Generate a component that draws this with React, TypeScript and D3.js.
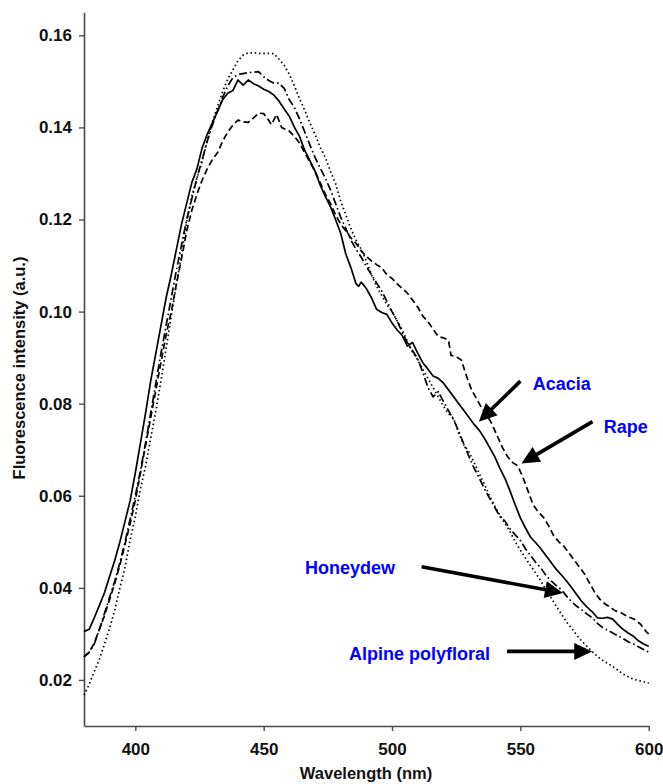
import React, { useEffect, useRef } from 'react';
import * as d3 from 'd3';

const W = 663;
const H = 784;

const X_TICKS = [400, 450, 500, 550, 600];
const Y_TICKS = [0.02, 0.04, 0.06, 0.08, 0.1, 0.12, 0.14, 0.16];

// Acacia (solid)
const ACACIA: [number, number][] = [
  [380, 0.0305], [382, 0.031], [384, 0.0335], [386, 0.0362], [388, 0.039], [390, 0.0425],
  [392, 0.046], [394, 0.05], [396, 0.0545], [398, 0.059], [400, 0.065], [402, 0.0715],
  [404, 0.078], [406, 0.085], [408, 0.091], [410, 0.097], [412, 0.103], [414, 0.108],
  [416, 0.1135], [418, 0.119], [420, 0.1235], [422, 0.128], [424, 0.131], [426, 0.1355],
  [428, 0.1385], [430, 0.141], [432, 0.1435], [434, 0.146], [436, 0.1474], [438, 0.148],
  [440, 0.1503], [442, 0.1492], [444, 0.1503], [446, 0.1495], [448, 0.149], [450, 0.1483],
  [452, 0.1478], [454, 0.147], [456, 0.1457], [458, 0.144], [460, 0.1424], [462, 0.14],
  [464, 0.138], [466, 0.135], [468, 0.1328], [470, 0.1305], [472, 0.1275], [474, 0.125],
  [476, 0.1228], [478, 0.12], [480, 0.117], [482, 0.1125], [484, 0.1095], [486, 0.106],
  [487, 0.1055], [488, 0.1064], [490, 0.105], [492, 0.103], [494, 0.1005], [496, 0.0998],
  [498, 0.0994], [500, 0.0975], [502, 0.096], [504, 0.0948], [506, 0.0925], [508, 0.0933],
  [510, 0.091], [512, 0.0889], [514, 0.0875], [516, 0.086], [518, 0.0855], [520, 0.0845],
  [522, 0.083], [524, 0.0815], [526, 0.08], [528, 0.0785], [530, 0.077], [532, 0.0755],
  [534, 0.0742], [536, 0.0725], [538, 0.0705], [540, 0.0685], [542, 0.066], [544, 0.0638],
  [546, 0.061], [548, 0.058], [550, 0.0552], [552, 0.053], [554, 0.051], [556, 0.0498],
  [558, 0.0485], [560, 0.047], [562, 0.0455], [564, 0.044], [566, 0.0428], [568, 0.0415],
  [570, 0.04], [572, 0.0385], [574, 0.037], [576, 0.0358], [578, 0.0348], [580, 0.0335],
  [582, 0.0334], [584, 0.0336], [586, 0.0332], [588, 0.032], [590, 0.031], [592, 0.0302],
  [594, 0.0295], [596, 0.0285], [598, 0.0278], [600, 0.0273],
];

// Rape (dashed)
const RAPE: [number, number][] = [
  [380, 0.025], [382, 0.026], [384, 0.028], [386, 0.031], [388, 0.034], [390, 0.0375],
  [392, 0.041], [394, 0.045], [396, 0.0495], [398, 0.054], [400, 0.059], [402, 0.065],
  [404, 0.071], [406, 0.077], [408, 0.083], [410, 0.089], [412, 0.095], [414, 0.1],
  [416, 0.106], [418, 0.1115], [420, 0.1175], [422, 0.122], [424, 0.1255], [426, 0.1285],
  [428, 0.131], [430, 0.133], [432, 0.1345], [434, 0.137], [436, 0.139], [438, 0.1405],
  [440, 0.1416], [442, 0.1412], [444, 0.1411], [446, 0.142], [448, 0.1431], [450, 0.143],
  [452, 0.1415], [453, 0.1406], [455, 0.1428], [457, 0.14], [460, 0.1392], [462, 0.138],
  [464, 0.1366], [466, 0.1345], [468, 0.1325], [470, 0.1305], [472, 0.128], [474, 0.1255],
  [476, 0.1235], [478, 0.121], [480, 0.119], [482, 0.1175], [484, 0.116], [486, 0.1148],
  [488, 0.1132], [490, 0.112], [492, 0.111], [494, 0.1102], [496, 0.1095], [498, 0.108],
  [500, 0.1072], [502, 0.106], [504, 0.105], [506, 0.104], [508, 0.1025], [510, 0.101],
  [512, 0.099], [514, 0.0978], [516, 0.0962], [518, 0.0946], [520, 0.0943], [522, 0.0938],
  [523, 0.0905], [525, 0.0902], [527, 0.0895], [529, 0.086], [531, 0.083], [533, 0.081],
  [535, 0.079], [537, 0.0775], [539, 0.0755], [541, 0.073], [543, 0.0705], [545, 0.0685],
  [547, 0.0672], [549, 0.0665], [551, 0.064], [553, 0.061], [555, 0.058], [557, 0.0565],
  [559, 0.0553], [561, 0.0535], [563, 0.0513], [565, 0.05], [567, 0.049], [569, 0.0475],
  [571, 0.046], [573, 0.0445], [575, 0.043], [577, 0.041], [579, 0.039], [581, 0.0375],
  [583, 0.0365], [585, 0.0358], [587, 0.035], [589, 0.0347], [591, 0.034], [593, 0.0335],
  [595, 0.033], [597, 0.032], [599, 0.0305], [600, 0.03],
];

// Honeydew (dash-dot)
const HONEYDEW: [number, number][] = [
  [380, 0.025], [382, 0.026], [384, 0.0278], [386, 0.031], [388, 0.0345], [390, 0.038],
  [392, 0.0415], [394, 0.0455], [396, 0.05], [398, 0.055], [400, 0.06], [402, 0.0655],
  [404, 0.0715], [406, 0.078], [408, 0.0845], [410, 0.091], [412, 0.097], [414, 0.103],
  [416, 0.109], [418, 0.1145], [420, 0.12], [422, 0.1245], [424, 0.129], [426, 0.133],
  [428, 0.137], [430, 0.1405], [432, 0.1435], [434, 0.1465], [436, 0.149], [438, 0.1508],
  [440, 0.1515], [442, 0.1517], [444, 0.1519], [446, 0.152], [448, 0.1521], [450, 0.151],
  [452, 0.1502], [454, 0.1496], [456, 0.1496], [458, 0.1485], [460, 0.146], [462, 0.1443],
  [464, 0.1418], [466, 0.139], [468, 0.1362], [470, 0.1335], [472, 0.1312], [474, 0.129],
  [476, 0.1265], [478, 0.1235], [480, 0.1205], [482, 0.118], [484, 0.1155], [486, 0.1135],
  [488, 0.1118], [490, 0.1098], [492, 0.108], [494, 0.1062], [496, 0.1045], [498, 0.1022],
  [500, 0.1], [502, 0.098], [504, 0.0955], [506, 0.0932], [508, 0.0915], [510, 0.0898],
  [512, 0.0868], [514, 0.0835], [516, 0.0815], [518, 0.0826], [520, 0.0805], [522, 0.0785],
  [524, 0.0765], [526, 0.074], [528, 0.0712], [530, 0.0685], [532, 0.066], [534, 0.0638],
  [536, 0.0615], [538, 0.0595], [540, 0.0575], [542, 0.0555], [544, 0.0545], [546, 0.0528],
  [548, 0.0515], [550, 0.0503], [552, 0.0485], [554, 0.047], [556, 0.0455], [558, 0.0443],
  [560, 0.0427], [562, 0.0415], [564, 0.0405], [566, 0.0396], [568, 0.0382], [570, 0.037],
  [572, 0.036], [574, 0.0352], [576, 0.0343], [578, 0.0335], [580, 0.0323], [582, 0.0314],
  [584, 0.0308], [586, 0.0302], [588, 0.0296], [590, 0.029], [592, 0.0283], [594, 0.0278],
  [596, 0.0272], [598, 0.0266], [600, 0.026],
];

// Alpine polyfloral (dotted)
const ALPINE: [number, number][] = [
  [380, 0.0167], [382, 0.019], [384, 0.0218], [386, 0.0245], [388, 0.0278], [390, 0.0313],
  [392, 0.0352], [394, 0.04], [396, 0.0445], [398, 0.0505], [400, 0.0555], [402, 0.0615],
  [404, 0.0665], [406, 0.0725], [408, 0.0785], [410, 0.085], [412, 0.092], [414, 0.099],
  [416, 0.106], [418, 0.1125], [420, 0.1195], [422, 0.125], [424, 0.129], [426, 0.1325],
  [428, 0.137], [430, 0.1412], [432, 0.1445], [434, 0.1478], [436, 0.1505], [438, 0.1525],
  [440, 0.1545], [442, 0.1557], [444, 0.1562], [446, 0.1562], [448, 0.1561], [450, 0.1561],
  [452, 0.1561], [454, 0.156], [456, 0.1548], [458, 0.1535], [460, 0.1515], [462, 0.149],
  [464, 0.1462], [466, 0.1437], [468, 0.141], [470, 0.1385], [472, 0.1357], [474, 0.1335],
  [476, 0.1305], [478, 0.1278], [480, 0.124], [482, 0.121], [484, 0.118], [486, 0.1155],
  [488, 0.1135], [490, 0.111], [492, 0.108], [494, 0.1055], [496, 0.1035], [498, 0.1015],
  [500, 0.1], [502, 0.098], [504, 0.096], [506, 0.0935], [508, 0.0912], [510, 0.0895],
  [512, 0.0875], [514, 0.0855], [516, 0.0835], [518, 0.0815], [520, 0.0795], [522, 0.0778],
  [524, 0.0768], [526, 0.0735], [528, 0.071], [530, 0.0695], [532, 0.0672], [534, 0.0648],
  [536, 0.0625], [538, 0.06], [540, 0.0578], [542, 0.0558], [544, 0.054], [546, 0.0522],
  [548, 0.05], [550, 0.0482], [552, 0.0465], [554, 0.0448], [556, 0.0432], [558, 0.0415],
  [560, 0.0395], [562, 0.0378], [564, 0.036], [566, 0.0343], [568, 0.0326], [570, 0.0312],
  [572, 0.0297], [574, 0.0284], [576, 0.0273], [578, 0.0262], [580, 0.0251], [582, 0.0243],
  [584, 0.0236], [586, 0.0229], [588, 0.0221], [590, 0.0213], [592, 0.0207], [594, 0.0202],
  [596, 0.0199], [598, 0.0196], [600, 0.0193],
];

const SERIES = [
  { name: 'Acacia', data: ACACIA, dash: null as string | null },
  { name: 'Rape', data: RAPE, dash: '6.5,3.5' },
  { name: 'Honeydew', data: HONEYDEW, dash: '8,3,1.6,3' },
  { name: 'Alpine polyfloral', data: ALPINE, dash: '1.5,2.8' },
];

// annotation labels & arrows in data coordinates (wavelength, intensity)
const LABELS = ['Acacia', 'Rape', 'Honeydew', 'Alpine polyfloral'];
const LABEL_POS: [number, number][] = [[554.8, 0.083], [582.5, 0.0736], [466.1, 0.0431], [483.2, 0.0244]];
const ARROW_FROM: [number, number][] = [[550.0, 0.0849], [578.1, 0.0761], [511.5, 0.0446], [544.8, 0.0262]];
const ARROW_TO: [number, number][] = [[533.8, 0.0761], [550.4, 0.067], [566.6, 0.0389], [578.0, 0.0262]];

const FONT = "'Liberation Sans', Arial, Helvetica, sans-serif";

export default function App() {
  const ref = useRef<SVGSVGElement>(null);

  useEffect(() => {
    const svg = d3.select(ref.current);
    svg.selectAll('*').remove();

    const x = d3.scaleLinear().domain([380, 600]).range([84, 648.7]);
    const y = d3.scaleLinear().domain([0.01, 0.165]).range([726, 12.3]);

    const axisColor = '#4a4a4a';

    const gx = svg
      .append('g')
      .attr('transform', `translate(0,${y(0.01)})`)
      .call(
        d3.axisBottom(x).tickValues(X_TICKS).tickSize(5).tickSizeOuter(0).tickPadding(12).tickFormat(d3.format('d')) as any
      );
    const gy = svg
      .append('g')
      .attr('transform', `translate(${x(380)},0)`)
      .call(
        d3.axisLeft(y).tickValues(Y_TICKS).tickSize(5).tickSizeOuter(0).tickPadding(7).tickFormat(d3.format('.2f')) as any
      );
    [gx, gy].forEach((g) => {
      g.select('.domain').attr('stroke', axisColor).attr('stroke-width', 1.6);
      g.selectAll('.tick line').attr('stroke', axisColor).attr('stroke-width', 1.4);
      g.selectAll('.tick text')
        .attr('fill', '#111')
        .attr('font-family', FONT)
        .attr('font-weight', 'bold')
        .attr('font-size', 17);
    });

    const line = d3
      .line<[number, number]>()
      .x((d) => x(d[0]))
      .y((d) => y(d[1]));

    SERIES.forEach((s) => {
      const p = svg
        .append('path')
        .datum(s.data)
        .attr('d', line)
        .attr('fill', 'none')
        .attr('stroke', '#000')
        .attr('stroke-width', 1.7)
        .attr('stroke-linejoin', 'round');
      if (s.dash) p.attr('stroke-dasharray', s.dash);
    });

    // axis titles
    svg
      .append('text')
      .attr('x', 366)
      .attr('y', 779)
      .attr('text-anchor', 'middle')
      .attr('font-family', FONT)
      .attr('font-weight', 'bold')
      .attr('font-size', 16.5)
      .attr('fill', '#111')
      .text('Wavelength (nm)');
    svg
      .append('text')
      .attr('transform', `translate(25,368) rotate(-90)`)
      .attr('text-anchor', 'middle')
      .attr('font-family', FONT)
      .attr('font-weight', 'bold')
      .attr('font-size', 16.5)
      .attr('fill', '#111')
      .text('Fluorescence intensity (a.u.)');

    // annotations
    LABELS.forEach((lab, i) => {
      svg
        .append('text')
        .attr('x', x(LABEL_POS[i][0]))
        .attr('y', y(LABEL_POS[i][1]))
        .attr('font-family', FONT)
        .attr('font-weight', 'bold')
        .attr('font-size', 18)
        .attr('fill', '#0000ff')
        .text(lab);

      const x0 = x(ARROW_FROM[i][0]);
      const y0 = y(ARROW_FROM[i][1]);
      const x1 = x(ARROW_TO[i][0]);
      const y1 = y(ARROW_TO[i][1]);
      const dx = x1 - x0;
      const dy = y1 - y0;
      const len = Math.hypot(dx, dy);
      const ux = dx / len;
      const uy = dy / len;
      const headLen = 18;
      const headHalf = 8.5;
      const bx = x1 - ux * headLen;
      const by = y1 - uy * headLen;
      svg
        .append('line')
        .attr('x1', x0)
        .attr('y1', y0)
        .attr('x2', bx + ux * 2)
        .attr('y2', by + uy * 2)
        .attr('stroke', '#000')
        .attr('stroke-width', 3.6);
      svg
        .append('polygon')
        .attr(
          'points',
          [
            [x1, y1],
            [bx - uy * headHalf, by + ux * headHalf],
            [bx + uy * headHalf, by - ux * headHalf],
          ]
            .map((p) => p.join(','))
            .join(' ')
        )
        .attr('fill', '#000');
    });
  }, []);

  return (
    <svg
      ref={ref}
      width={W}
      height={H}
      style={{ position: 'absolute', left: 0, top: 0, background: '#fff' }}
    />
  );
}
